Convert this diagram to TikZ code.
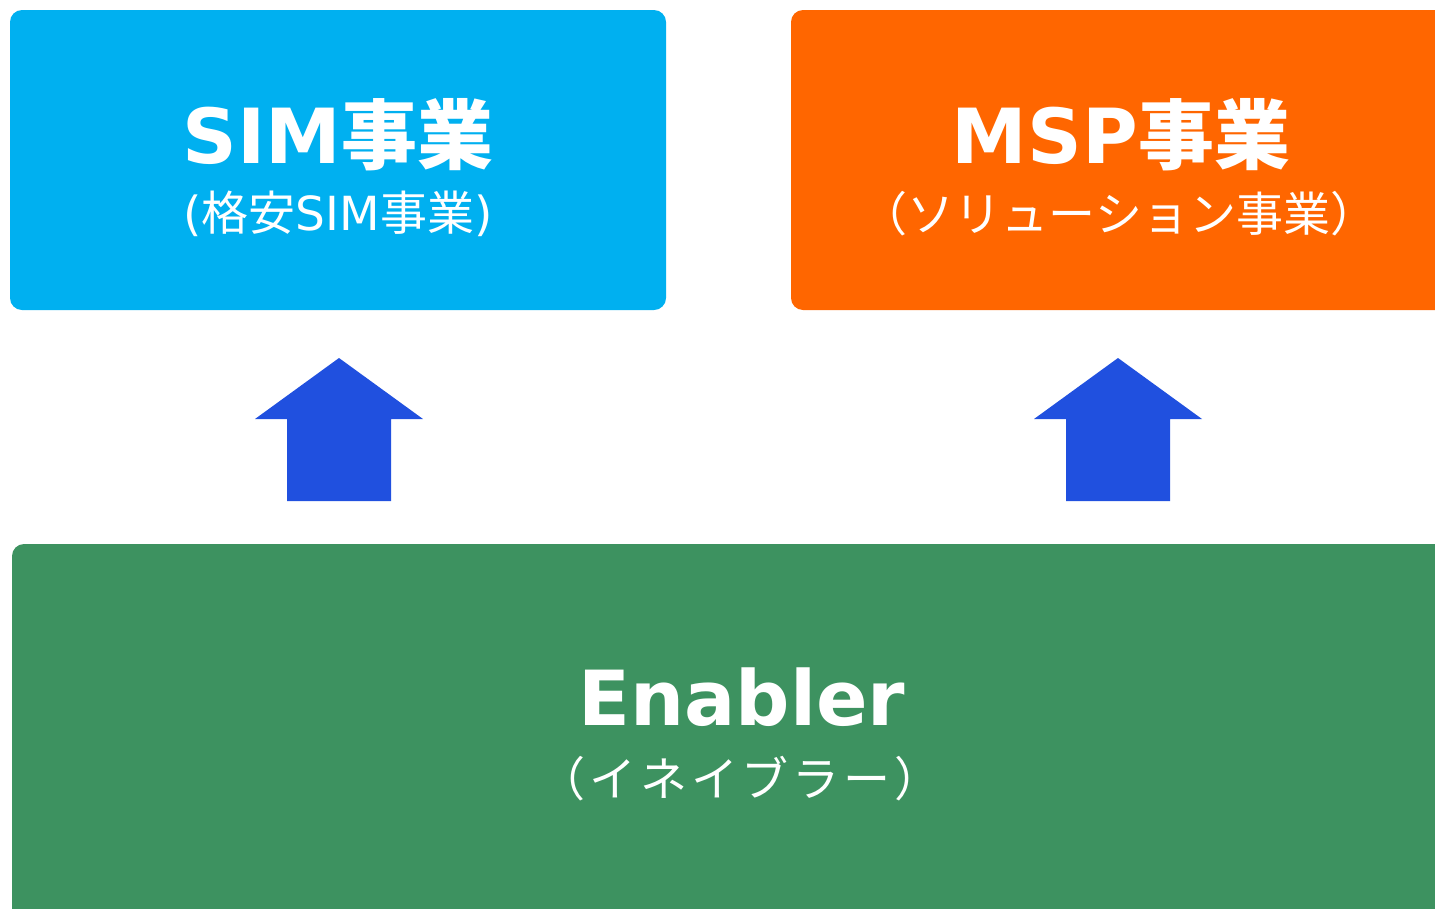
\documentclass[tikz,border=0pt]{standalone}
\usepackage{fontspec}
\setmainfont{Noto Sans CJK JP}
\newfontfamily\latinfont{DejaVu Sans}
\usetikzlibrary{positioning}

\definecolor{simblue}{HTML}{00B0F0}
\definecolor{msporange}{HTML}{FF6600}
\definecolor{enablergreen}{HTML}{3D9260}
\definecolor{arrowblue}{HTML}{2050DF}

\begin{document}
\begin{tikzpicture}[x=1pt,y=-1pt,
    box/.style={rounded corners=12pt, inner sep=0pt, outer sep=0pt, anchor=north west},
    title/.style={text=white, font=\fontsize{76}{76}\selectfont\bfseries},
    subtitle/.style={text=white, font=\fontsize{47}{47}\selectfont},
    upblock/.style={fill=arrowblue}]
  \clip (0,0) rectangle (1435,908);

  % boxes
  \node[box, fill=simblue, minimum width=656pt, minimum height=300pt] (sim) at (10,10) {};
  \node[box, fill=msporange, minimum width=680pt, minimum height=300pt] (msp) at (791,10) {};
  \node[box, fill=enablergreen, minimum width=1460pt, minimum height=400pt] (enabler) at (12,544) {};

  % labels
  \node[title] (simtitle) at (338,135) {{\latinfont\bfseries SIM}事業};
  \node[subtitle] (simsub) at (338,214) {{\latinfont(}格安{\latinfont SIM}事業{\latinfont)}};
  \node[title] (msptitle) at (1121,135) {{\latinfont\bfseries MSP}事業};
  \node[subtitle] (mspsub) at (1119,214) {（ソリューション事業）};
  \node[title] (enablertitle) at (742,697) {\latinfont\bfseries Enabler};
  \node[subtitle] (enablersub) at (740,779) {\addfontfeature{LetterSpace=8}（イネイブラー）};

  % block arrows
  \foreach \x in {339,1118}
    \fill[upblock] (\x,358) -- ++(84,61) -- ++(-32,0) -- ++(0,82)
      -- ++(-104,0) -- ++(0,-82) -- ++(-32,0) -- cycle;
\end{tikzpicture}
\end{document}
